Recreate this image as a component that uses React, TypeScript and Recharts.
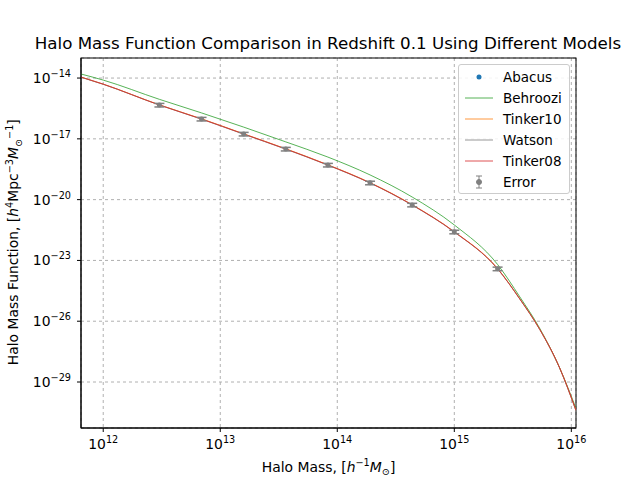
import React from "react";
import { ComposedChart, Line, Scatter, XAxis, YAxis, CartesianGrid, ErrorBar } from "recharts";

const massExp = [11.81, 12.0, 12.48, 12.84, 13.2, 13.56, 13.92, 14.28, 14.64, 15.0, 15.37, 15.56, 15.73, 15.9, 16.04];
const tinker08Exp = [-13.95, -14.3, -15.33, -16.02, -16.76, -17.5, -18.29, -19.17, -20.26, -21.59, -23.41, -24.9, -26.4, -28.3, -30.4];
const tinker10Exp = [-13.95, -14.3, -15.32, -16.01, -16.75, -17.49, -18.28, -19.16, -20.25, -21.58, -23.4, -24.9, -26.4, -28.3, -30.4];
const watsonExp = [-13.96, -14.31, -15.33, -16.03, -16.77, -17.51, -18.3, -19.18, -20.27, -21.6, -23.42, -24.91, -26.41, -28.31, -30.42];
const behrooziExp = [-13.8, -14.1, -15.05, -15.72, -16.42, -17.15, -17.9, -18.78, -19.87, -21.25, -23.2, -24.8, -26.35, -28.3, -30.3];

const abacusMassExp = [12.48, 12.84, 13.2, 13.56, 13.92, 14.28, 14.64, 15.0, 15.37];
const abacusExp = [-15.33, -16.02, -16.76, -17.5, -18.29, -19.17, -20.26, -21.59, -23.41];

const xTickExp = [12, 13, 14, 15, 16];
const yTickExp = [-14, -17, -20, -23, -26, -29];

const toSeries = (ys: number[]) => massExp.map((m, i) => ({ m: Math.pow(10, m), v: Math.pow(10, ys[i]) }));
const abacus = abacusMassExp.map((m, i) => {
  const v = Math.pow(10, abacusExp[i]);
  return { m: Math.pow(10, m), v, err: v * 0.2 };
});

const font = "DejaVu Sans, sans-serif";

const XTick = (p: any) => {
  const e = Math.round(Math.log10(p.payload.value));
  return (
    <text x={p.x} y={p.y + 15} textAnchor="middle" fontSize={13.9} fontFamily={font} fill="#000">
      10<tspan dy={-6} fontSize={9.7}>{e}</tspan>
    </text>
  );
};
const YTick = (p: any) => {
  const e = Math.round(Math.log10(p.payload.value));
  return (
    <text x={p.x - 4} y={p.y + 5} textAnchor="end" fontSize={13.9} fontFamily={font} fill="#000">
      10<tspan dy={-6} fontSize={9.7}>{"\u2212" + Math.abs(e)}</tspan>
    </text>
  );
};

const legendItems = [
  { name: "Abacus", kind: "dot", color: "#1f77b4" },
  { name: "Behroozi", kind: "line", color: "#2ca02c" },
  { name: "Tinker10", kind: "line", color: "#ff7f0e" },
  { name: "Watson", kind: "line", color: "#7f7f7f" },
  { name: "Tinker08", kind: "line", color: "#d62728" },
  { name: "Error", kind: "err", color: "#808080" },
];

export default function App() {
  return (
    <div style={{ position: "absolute", left: 0, top: 0, width: 640, height: 480, background: "#fff", fontFamily: font }}>
      <div style={{ position: "absolute", top: 33, left: 0, width: 656, textAlign: "center", fontSize: 16.7 }}>
        Halo Mass Function Comparison in Redshift 0.1 Using Different Models
      </div>
      <ComposedChart width={640} height={480} margin={{ top: 58, right: 64, bottom: 22, left: 11 }}>
        <CartesianGrid stroke="#b0b0b0" strokeDasharray="3 3" />
        <XAxis type="number" dataKey="m" scale="log" domain={[Math.pow(10, 11.81), Math.pow(10, 16.04)]}
          ticks={xTickExp.map((e) => Math.pow(10, e))} tick={XTick} interval={0} allowDataOverflow height={30}
          stroke="#000" tickSize={4} />
        <YAxis type="number" dataKey="v" scale="log" domain={[Math.pow(10, -31.27), Math.pow(10, -13.01)]}
          ticks={yTickExp.map((e) => Math.pow(10, e))} tick={YTick} interval={0} allowDataOverflow width={70}
          stroke="#000" tickSize={4} />
        <Line data={toSeries(behrooziExp)} dataKey="v" type="monotone" stroke="#2ca02c" strokeWidth={0.8} dot={false} isAnimationActive={false} />
        <Line data={toSeries(tinker10Exp)} dataKey="v" type="monotone" stroke="#ff7f0e" strokeWidth={0.8} dot={false} isAnimationActive={false} />
        <Line data={toSeries(watsonExp)} dataKey="v" type="monotone" stroke="#7f7f7f" strokeWidth={0.8} dot={false} isAnimationActive={false} />
        <Line data={toSeries(tinker08Exp)} dataKey="v" type="monotone" stroke="#d62728" strokeWidth={0.8} dot={false} isAnimationActive={false} />
        <Scatter data={abacus} dataKey="v" fill="#808080" isAnimationActive={false}
          shape={(p: any) => <circle cx={p.cx} cy={p.cy} r={2.5} fill="#808080" />}>
          <ErrorBar dataKey="err" direction="y" stroke="#808080" width={5} />
        </Scatter>
        <rect x={81} y={58} width={495} height={370} fill="none" stroke="#000" strokeWidth={1} />
      </ComposedChart>
      <div style={{ position: "absolute", top: 457, left: 81, width: 495, textAlign: "center", fontSize: 13.9 }}>
        Halo Mass, [<i>h</i><sup style={{ fontSize: 9.7 }}>−1</sup><i>M</i><sub style={{ fontSize: 9.7 }}>⊙</sub>]
      </div>
      <div style={{ position: "absolute", left: 14 - 185, top: 243 - 11, width: 370, textAlign: "center", fontSize: 13.9, transform: "rotate(-90deg)" }}>
        Halo Mass Function, [<i>h</i><sup style={{ fontSize: 9.7 }}>4</sup>Mpc<sup style={{ fontSize: 9.7 }}>−3</sup><i>M</i><sub style={{ fontSize: 9.7 }}>⊙</sub><sup style={{ fontSize: 9.7 }}>−1</sup>]
      </div>
      <div style={{ position: "absolute", left: 458, top: 64, width: 110, height: 128, background: "rgba(255,255,255,0.85)", border: "1px solid #ccc", borderRadius: 3, fontSize: 13.5 }}>
        {legendItems.map((it, i) => (
          <div key={it.name} style={{ position: "absolute", top: 3 + i * 21, left: 6, display: "flex", alignItems: "center", height: 18 }}>
            <svg width={28} height={14}>
              {it.kind === "dot" && <circle cx={14} cy={7} r={2.5} fill={it.color} />}
              {it.kind === "line" && <line x1={0} x2={28} y1={7} y2={7} stroke={it.color} strokeWidth={0.8} />}
              {it.kind === "err" && (
                <g stroke={it.color}>
                  <line x1={14} x2={14} y1={1} y2={13} />
                  <line x1={11} x2={17} y1={1} y2={1} />
                  <line x1={11} x2={17} y1={13} y2={13} />
                  <circle cx={14} cy={7} r={2.5} fill={it.color} />
                </g>
              )}
            </svg>
            <span style={{ marginLeft: 10 }}>{it.name}</span>
          </div>
        ))}
      </div>
    </div>
  );
}
